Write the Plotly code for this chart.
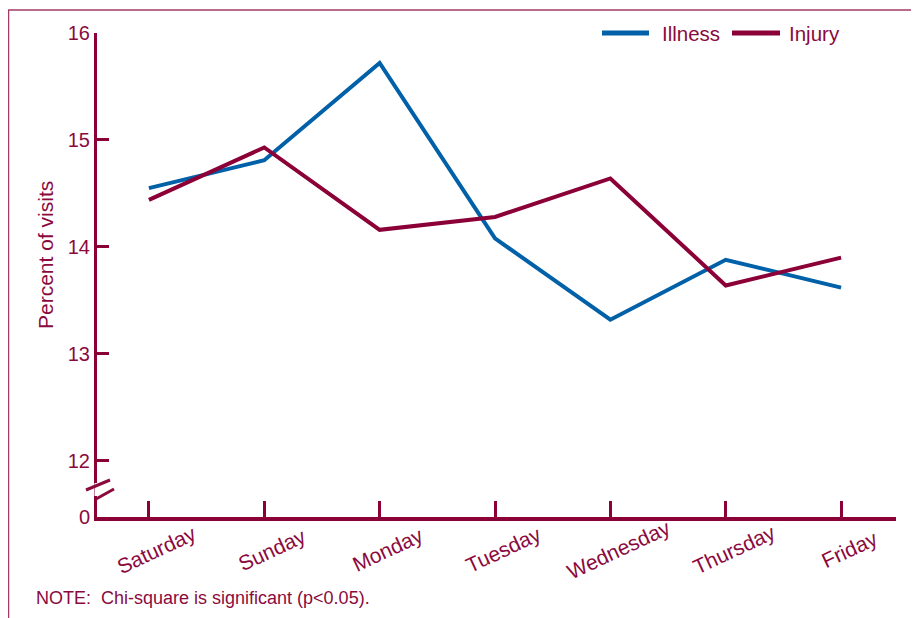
import plotly.graph_objects as go

days = ["Saturday", "Sunday", "Monday", "Tuesday", "Wednesday", "Thursday", "Friday"]
illness = [14.55, 14.81, 15.72, 14.08, 13.32, 13.88, 13.62]
injury = [14.44, 14.93, 14.16, 14.28, 14.64, 13.64, 13.90]
ytick_vals = [11.475, 12, 13, 14, 15, 16]
ytick_text = ["0", "12", "13", "14", "15", "16"]

MAROON = "#8b0a3e"
LINE_MAROON = "#8a0037"
BLUE = "#0060a8"
FONT = "Liberation Sans, Arial, sans-serif"

# page offset of the figure (body margin)
OFF = 8
# plot-area geometry in page pixels
L, R, T, B = 97, 896, 33, 517
W, H = 919, 618
def px(x):
    return (x - L) / (R - L)
def py(y):
    return (B - y) / (B - T)

fig = go.Figure()
fig.add_trace(go.Scatter(x=days, y=illness, mode="lines", name="Illness",
                         line=dict(color=BLUE, width=4), showlegend=False))
fig.add_trace(go.Scatter(x=days, y=injury, mode="lines", name="Injury",
                         line=dict(color=LINE_MAROON, width=4), showlegend=False))

shapes = []
# outer frame
shapes.append(dict(type="rect", xref="paper", yref="paper",
                   x0=px(8.5), x1=px(960), y0=py(660), y1=py(10),
                   line=dict(color="#a23a68", width=1.5), layer="below"))
# axis break: hide axis gap and draw slashes
shapes.append(dict(type="line", xref="paper", yref="paper",
                   x0=px(97), x1=px(97), y0=py(496), y1=py(483),
                   line=dict(color="white", width=5), layer="above"))
shapes.append(dict(type="line", xref="paper", yref="paper",
                   x0=px(86), x1=px(110), y0=py(490), y1=py(480),
                   line=dict(color=MAROON, width=3), layer="above"))
shapes.append(dict(type="line", xref="paper", yref="paper",
                   x0=px(96), x1=px(114), y0=py(499), y1=py(489),
                   line=dict(color=MAROON, width=3), layer="above"))
# legend lines
shapes.append(dict(type="line", xref="paper", yref="paper",
                   x0=px(602), x1=px(649), y0=py(33), y1=py(33),
                   line=dict(color=BLUE, width=5)))
shapes.append(dict(type="line", xref="paper", yref="paper",
                   x0=px(732), x1=px(780), y0=py(33), y1=py(33),
                   line=dict(color=LINE_MAROON, width=5)))

annotations = []
for d in days:
    annotations.append(dict(x=d, xref="x", y=py(549), yref="paper", text=d,
                            showarrow=False, textangle=-25, xanchor="center",
                            yanchor="middle", xshift=8,
                            font=dict(family=FONT, size=21, color=MAROON)))
annotations.append(dict(x=px(660), y=py(33), xref="paper", yref="paper", text="Illness",
                        showarrow=False, xanchor="left", yanchor="middle",
                        font=dict(family=FONT, size=20.5, color=MAROON)))
annotations.append(dict(x=px(787), y=py(33), xref="paper", yref="paper", text="Injury",
                        showarrow=False, xanchor="left", yanchor="middle",
                        font=dict(family=FONT, size=20.5, color=MAROON)))
annotations.append(dict(x=px(45), y=py(255), xref="paper", yref="paper",
                        text="Percent of visits", showarrow=False, textangle=-90,
                        xanchor="center", yanchor="middle",
                        font=dict(family=FONT, size=21, color=MAROON)))
annotations.append(dict(x=px(34), y=py(598), xref="paper", yref="paper",
                        text="NOTE:  Chi-square is significant (p<0.05).",
                        showarrow=False, xanchor="left", yanchor="middle",
                        font=dict(family=FONT, size=18, color=MAROON)))

fig.update_layout(
    width=W, height=H,
    margin=dict(l=L - OFF, r=W - (R - OFF), t=T - OFF, b=H - (B - OFF)),
    paper_bgcolor="white", plot_bgcolor="white",
    font=dict(family=FONT, size=20, color=MAROON),
    xaxis=dict(type="category", categoryorder="array", categoryarray=days,
               range=[-0.45, 6.476], showgrid=False, zeroline=False,
               showline=True, linecolor=LINE_MAROON, linewidth=4,
               ticks="inside", ticklen=16, tickwidth=3, tickcolor=LINE_MAROON,
               showticklabels=False, fixedrange=True),
    yaxis=dict(range=[11.475, 16.0], tickvals=ytick_vals, ticktext=ytick_text,
               showgrid=False, zeroline=False, showline=True,
               linecolor=LINE_MAROON, linewidth=3, ticks="inside", ticklen=12,
               tickwidth=3, tickcolor=LINE_MAROON,
               tickfont=dict(family=FONT, size=20, color=MAROON)),
    shapes=shapes, annotations=annotations,
)

fig.write_html("out.html")
